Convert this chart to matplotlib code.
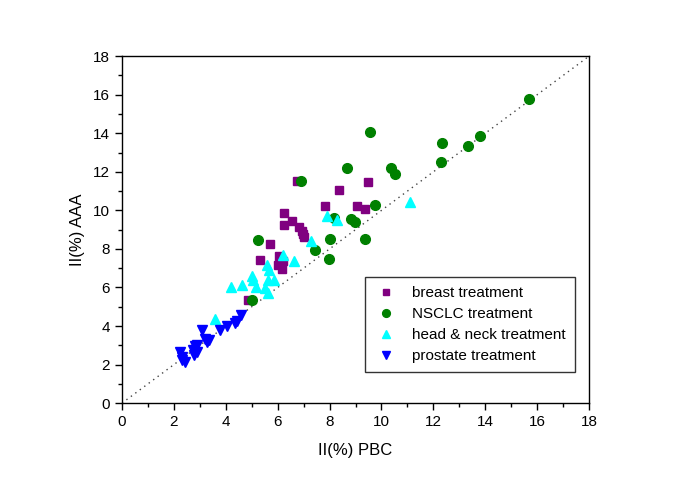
import numpy as np
import matplotlib
matplotlib.use('Agg')
import matplotlib.pyplot as plt
from matplotlib.ticker import MultipleLocator

plt.rcParams['font.family'] = ['Liberation Sans', 'DejaVu Sans']

# breast treatment
breast_x = [4.84, 5.31, 5.72, 6.03, 6.16, 6.06, 6.19, 6.25, 6.26, 6.55, 6.76,
            6.82, 6.93, 6.98, 7.03, 7.83, 8.38, 9.05, 9.38, 9.48]
breast_y = [5.35, 7.44, 8.28, 7.19, 6.95, 7.64, 7.37, 9.84, 9.23, 9.44, 11.53,
            9.14, 8.93, 8.80, 8.63, 10.23, 11.06, 10.22, 10.08, 11.48]

# NSCLC treatment
nsclc_x = [5.00, 5.23, 6.89, 7.44, 7.97, 8.02, 8.16, 8.66, 8.82, 8.99, 9.37,
           9.56, 9.77, 10.37, 10.54, 12.29, 12.32, 13.35, 13.78, 15.70]
nsclc_y = [5.34, 8.45, 11.53, 7.97, 7.47, 8.52, 9.63, 12.19, 9.53, 9.41, 8.49,
           14.07, 10.30, 12.19, 11.91, 12.52, 13.50, 13.35, 13.85, 15.80]

# head & neck treatment
hn_x = [3.59, 4.21, 4.61, 5.00, 5.06, 5.17, 5.51, 5.58, 5.64, 5.64, 5.68,
        5.87, 6.22, 6.63, 7.27, 7.89, 8.29, 11.10]
hn_y = [4.37, 6.03, 6.15, 6.60, 6.38, 6.00, 5.95, 7.16, 5.72, 6.41, 6.93,
        6.38, 7.71, 7.37, 8.42, 9.70, 9.49, 10.44]

# prostate treatment
pr_x = [2.24, 2.30, 2.43, 2.30, 2.72, 2.78, 2.81, 2.88, 2.88, 3.07, 3.20,
        3.26, 3.37, 3.78, 4.04, 4.36, 4.45, 4.57]
pr_y = [2.66, 2.40, 2.14, 2.25, 2.78, 2.49, 2.96, 2.66, 3.02, 3.82, 3.35,
        3.18, 3.30, 3.79, 3.99, 4.17, 4.27, 4.56]

fig = plt.figure(figsize=(6.85, 4.84), dpi=100)
ax = fig.add_axes([0.178, 0.167, 0.682, 0.717])

ax.plot([0, 18], [0, 18], color='#444444', linestyle=(0, (1, 3)), linewidth=1, zorder=1)

ax.plot(breast_x, breast_y, 's', color='#800080', markersize=6, linestyle='none',
        label='breast treatment', zorder=3)
ax.plot(nsclc_x, nsclc_y, 'o', color='#008000', markersize=7, linestyle='none',
        label='NSCLC treatment', zorder=3)
ax.plot(hn_x, hn_y, '^', color='#00FFFF', markersize=7.5, linestyle='none',
        label='head & neck treatment', zorder=3)
ax.plot(pr_x, pr_y, 'v', color='#0000FF', markersize=7.5, linestyle='none',
        label='prostate treatment', zorder=3)

ax.set_xlim(0, 18)
ax.set_ylim(0, 18)
ax.xaxis.set_major_locator(MultipleLocator(2))
ax.xaxis.set_minor_locator(MultipleLocator(1))
ax.yaxis.set_major_locator(MultipleLocator(2))
ax.yaxis.set_minor_locator(MultipleLocator(1))
ax.tick_params(which='major', direction='out', length=5, width=1, labelsize=11, colors='black')
ax.tick_params(which='minor', direction='out', length=3, width=1)
for s in ax.spines.values():
    s.set_linewidth(1)

ax.set_xlabel('II(%) PBC', fontsize=12, labelpad=10)
ax.set_ylabel('II(%) AAA', fontsize=12, labelpad=6)

leg = ax.legend(loc='lower right', bbox_to_anchor=(0.97, 0.089), borderaxespad=0,
                fontsize=11, frameon=True, fancybox=False, edgecolor='black',
                handlelength=1.5, handletextpad=1.0, borderpad=0.6,
                labelspacing=0.45, markerscale=0.8)
leg.get_frame().set_linewidth(1)

fig.savefig('out.png', dpi=100)
